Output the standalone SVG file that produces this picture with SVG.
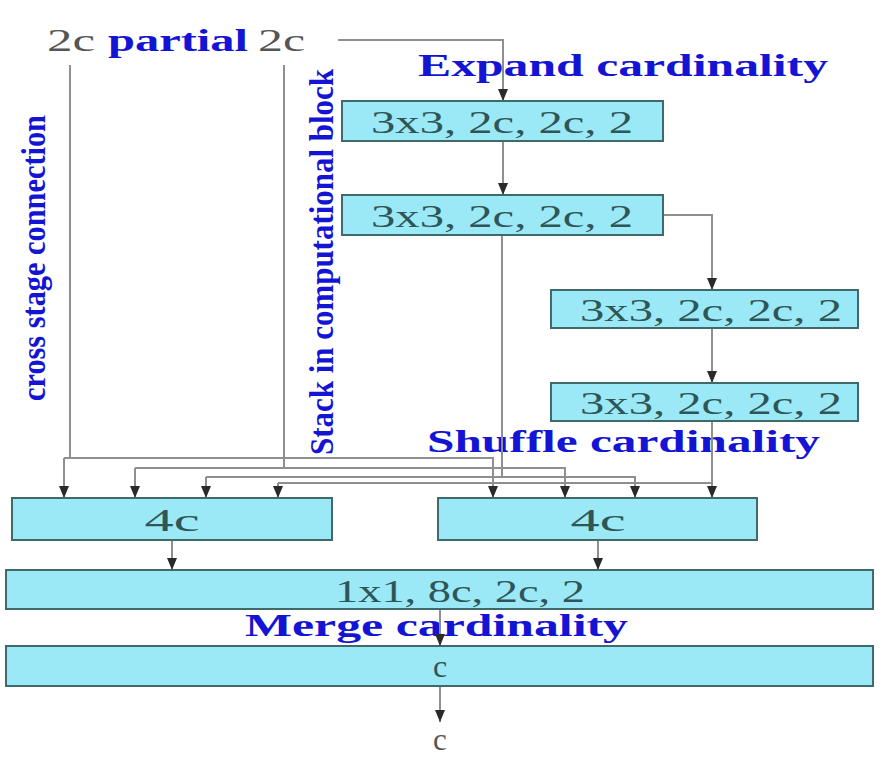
<svg xmlns="http://www.w3.org/2000/svg" width="886" height="759" viewBox="0 0 886 759">
<style>
.box{fill:#9be8f7;stroke:#3f6a6a;stroke-width:2}
.bt{font-family:"Liberation Serif",serif;font-size:32px;fill:#2f5656;text-anchor:middle}
.lbl{font-family:"Liberation Serif",serif;font-size:31px;font-weight:bold;fill:#1414d4}
.vl{font-family:"Liberation Serif",serif;font-size:34px;font-weight:bold;fill:#1414d4}
.gray{font-family:"Liberation Serif",serif;font-size:31px;fill:#555}
.ln{fill:none;stroke:#8f8f8f;stroke-width:2}
.ar{marker-end:url(#ah)}
</style>
<defs>
<marker id="ah" markerUnits="userSpaceOnUse" markerWidth="12" markerHeight="10" viewBox="0 0 12 10" refX="12" refY="5" orient="auto">
<path d="M0,0 L12,5 L0,10 Z" fill="#2a2a2a"/>
</marker>
</defs>
<rect width="886" height="759" fill="#fff"/>

<g id="labels">
<text class="gray" x="47" y="51" textLength="48" lengthAdjust="spacingAndGlyphs">2c</text>
<text class="lbl" x="108" y="51" textLength="140" lengthAdjust="spacingAndGlyphs">partial</text>
<text class="gray" x="258" y="51" textLength="47" lengthAdjust="spacingAndGlyphs">2c</text>
<text class="lbl" x="418" y="76" textLength="410" lengthAdjust="spacingAndGlyphs">Expand cardinality</text>
<text class="lbl" x="427" y="452" textLength="393" lengthAdjust="spacingAndGlyphs">Shuffle cardinality</text>
<text class="lbl" x="245" y="636" textLength="383" lengthAdjust="spacingAndGlyphs">Merge cardinality</text>
<text class="vl" transform="translate(45,258) rotate(-90)" text-anchor="middle" textLength="286" lengthAdjust="spacingAndGlyphs">cross stage connection</text>
<text class="vl" transform="translate(333,262) rotate(-90)" text-anchor="middle" textLength="386" lengthAdjust="spacingAndGlyphs">Stack in computational block</text>
<text class="gray" x="440" y="750" text-anchor="middle" font-size="29">c</text>
</g>

<g id="connectors">
<path class="ln ar" d="M338,40 H503 V101"/>
<path class="ln ar" d="M503,141 V195"/>
<path class="ln ar" d="M663,215 H712 V290"/>
<path class="ln ar" d="M712,328 V383"/>
<path class="ln" d="M70,65 V458"/>
<path class="ln ar" d="M64,458 H493 V498"/>
<path class="ln ar" d="M64,458 V498"/>
<path class="ln" d="M284,65 V468"/>
<path class="ln ar" d="M135,468 H565 V498"/>
<path class="ln ar" d="M135,468 V498"/>
<path class="ln" d="M502,235 V477"/>
<path class="ln ar" d="M206,477 H635 V498"/>
<path class="ln ar" d="M206,477 V498"/>
<path class="ln ar" d="M712,421 V498"/>
<path class="ln" d="M278,483 H712"/>
<path class="ln ar" d="M278,483 V498"/>
<path class="ln ar" d="M172,540 V570"/>
<path class="ln ar" d="M598,540 V570"/>
<path class="ln ar" d="M440,609 V646"/>
<path class="ln ar" d="M440,686 V722"/>
</g>

<g id="box1"><rect class="box" x="342" y="101" width="321" height="40"/><text class="bt" x="502" y="133" textLength="262" lengthAdjust="spacingAndGlyphs">3x3, 2c, 2c, 2</text></g>
<g id="box2"><rect class="box" x="342" y="195" width="321" height="40"/><text class="bt" x="502" y="227" textLength="262" lengthAdjust="spacingAndGlyphs">3x3, 2c, 2c, 2</text></g>
<g id="box3"><rect class="box" x="551" y="290" width="307" height="38"/><text class="bt" x="711" y="321" textLength="262" lengthAdjust="spacingAndGlyphs">3x3, 2c, 2c, 2</text></g>
<g id="box4"><rect class="box" x="551" y="383" width="307" height="38"/><text class="bt" x="711" y="414" textLength="262" lengthAdjust="spacingAndGlyphs">3x3, 2c, 2c, 2</text></g>
<g id="concat-left"><rect class="box" x="12" y="498" width="320" height="42"/><text class="bt" x="172" y="531" textLength="55" lengthAdjust="spacingAndGlyphs">4c</text></g>
<g id="concat-right"><rect class="box" x="438" y="498" width="319" height="42"/><text class="bt" x="598" y="531" textLength="55" lengthAdjust="spacingAndGlyphs">4c</text></g>
<g id="merge"><rect class="box" x="6" y="570" width="867" height="39"/><text class="bt" x="460" y="602" textLength="250" lengthAdjust="spacingAndGlyphs">1x1, 8c, 2c, 2</text></g>
<g id="out"><rect class="box" x="6" y="646" width="867" height="40"/><text class="bt" x="440" y="677">c</text></g>
</svg>
